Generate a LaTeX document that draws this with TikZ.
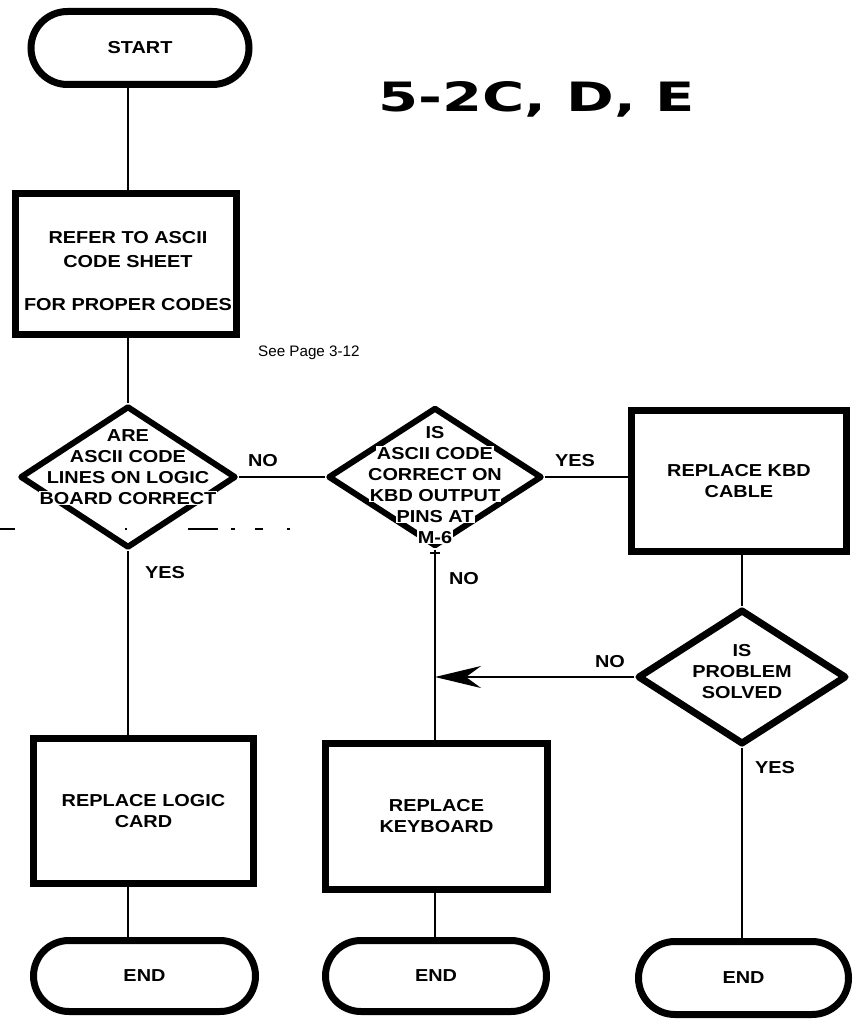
\documentclass[tikz,border=0pt]{standalone}
\usepackage{graphicx}
\usepackage{fontspec}
\setmainfont{Liberation Sans}[FakeStretch=1.15]
\newfontfamily\titlefont{DejaVu Sans}
\newfontfamily\notefont{Liberation Sans}
\usetikzlibrary{shapes.geometric,shapes.misc,arrows.meta,calc}
\tikzset{
  every node/.style={font=\fontsize{17.3}{21}\selectfont\bfseries},
  terminal/.style={draw, rounded rectangle, line width=7pt, inner sep=0pt},
  flowbox/.style={draw, rectangle, line width=7pt, align=center, inner sep=0pt},
  decision/.style={draw, diamond, line width=6pt, line join=round, inner sep=0pt},
  dtext/.style={fill=white, inner sep=1pt, text height=12.4pt, text depth=0pt},
  lbl/.style={inner sep=0pt, text height=12.4pt, text depth=0pt},
  conn/.style={line width=2pt},
}
\begin{document}
\begin{tikzpicture}[x=1pt,y=-1pt]
\fill[white] (0,0) rectangle (854,1019);
\useasboundingbox (0,0) rectangle (854,1019);

% terminals
\node[terminal, minimum width=218pt, minimum height=73pt] (start) at (140,48) {START};
\node[terminal, minimum width=222pt, minimum height=71pt] (e1) at (144.5,976) {END};
\node[terminal, minimum width=221pt, minimum height=71pt] (e2) at (436,976) {END};
\node[terminal, minimum width=210pt, minimum height=73pt] (e3) at (743.5,978) {END};

% title
\node[anchor=base west, inner sep=0pt] (title) at (378,112) {\resizebox{317pt}{30pt}{\titlefont\bfseries 5-2C, D, E}};

% boxes
\node[flowbox, minimum width=221pt, minimum height=141pt] (b1) at (126,264) {};
\node[inner sep=0pt, align=center] (b1t) at (128,271) {REFER TO ASCII\\[3pt]CODE SHEET\\[22pt]FOR PROPER CODES};
\node[inner sep=0pt, anchor=base west, font=\notefont\fontsize{15.2}{17}\selectfont] (note) at (258,356) {See Page 3-12};

\node[flowbox, minimum width=215pt, minimum height=141pt] (b3) at (739,481) {REPLACE KBD\\CABLE};
\node[flowbox, minimum width=220pt, minimum height=145pt] (b4) at (143.5,811) {REPLACE LOGIC\\CARD};
\node[flowbox, minimum width=222pt, minimum height=146pt] (b5) at (436.5,816.5) {REPLACE\\KEYBOARD};

% decisions
\node[decision, minimum width=216pt, minimum height=142pt] (d1) at (128,477) {};
\node[dtext] (d1a) at (128,435) {ARE};
\node[dtext] (d1b) at (128,456) {ASCII CODE};
\node[dtext] (d1c) at (128,477) {LINES ON LOGIC};
\node[dtext] (d1d) at (128,498) {BOARD CORRECT};

\node[decision, minimum width=214pt, minimum height=139pt] (d2) at (435,477) {};
\node[dtext] (d2a) at (435,432) {IS};
\node[dtext] (d2b) at (435,453) {ASCII CODE};
\node[dtext] (d2c) at (435,474) {CORRECT ON};
\node[dtext] (d2d) at (435,495) {KBD OUTPUT};
\node[dtext] (d2e) at (435,516) {PINS AT};
\node[dtext] (d2f) at (435,537) {M-6};

\node[decision, line width=7pt, minimum width=209pt, minimum height=135pt] (d3) at (742,677) {};
\node[dtext] (d3a) at (742,650) {IS};
\node[dtext] (d3b) at (742,671) {PROBLEM};
\node[dtext] (d3c) at (742,692) {SOLVED};

% labels
\node[lbl] (l1) at (263,460) {NO};
\node[lbl] (l2) at (575,460) {YES};
\node[lbl] (l3) at (165,572) {YES};
\node[lbl] (l4) at (464,578) {NO};
\node[lbl] (l5) at (610,661) {NO};
\node[lbl] (l6) at (775,767) {YES};

% connectors
\draw[conn] (start.south -| d1.north) -- (b1.north -| d1.north);
\draw[conn] (b1.south -| d1.north) -- (d1.north);
\draw[conn] (d1.east) -- (d1.east -| d2.west);
\draw[conn] (d2.east) -- (d2.east -| b3.west);
\draw[conn] (b3.south -| d3.north) -- (d3.north);
\coordinate (j) at (d2.south |- d3.west);
\draw[conn, -{Stealth[length=46pt, width=22pt, inset=15pt]}] (d3.west) -- (j);
\draw[conn] (d2.south) -- (b5.north -| d2.south);
\draw[conn] ($(d2.south)+(-5,3)$) -- ($(d2.south)+(5,3)$);
\draw[conn] (d1.south) -- (b4.north -| d1.south);
\draw[conn] (b4.south -| d1.south) -- (e1.north -| d1.south);
\draw[conn] (b5.south -| d2.south) -- (e2.north -| d2.south);
\draw[conn] (d3.south) -- (e3.north -| d3.south);

% stray scan marks
\draw[line width=2pt] (0,529) -- (15,529) (188,529) -- (218,529) (231,529) -- (235,529)
  (255,529) -- (263,529) (287,529) -- (290,529) (125,529) -- (127,529);
\end{tikzpicture}
\end{document}
